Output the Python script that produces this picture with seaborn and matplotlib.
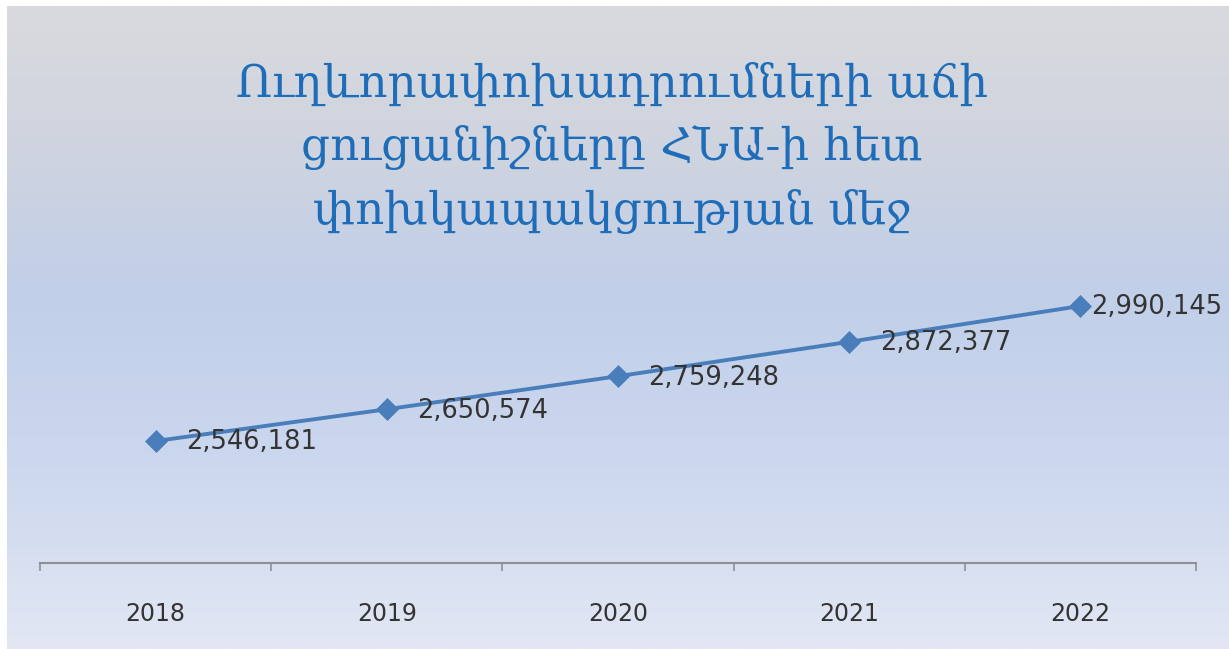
import numpy as np
import pandas as pd
import matplotlib
matplotlib.use("Agg")
import matplotlib.pyplot as plt
from matplotlib.colors import LinearSegmentedColormap
import seaborn as sns

# Data
years = ["2018", "2019", "2020", "2021", "2022"]
passengers = [2546181, 2650574, 2759248, 2872377, 2990145]
title_lines = [
    "Ուղևորափոխադրումների աճի",
    "ցուցանիշները ՀՆԱ-ի հետ",
    "փոխկապակցության մեջ",
]

sns.set_theme(style="white")
plt.rcParams["font.family"] = ["DejaVu Sans"]

W, H = 1229, 649
fig = plt.figure(figsize=(W / 100, H / 100), dpi=100)
fig.patch.set_facecolor("white")

# Soft vertical gradient behind the chart
bg = fig.add_axes([7 / W, 0, 1 - 7 / W, 1 - 6 / H], zorder=-5)
grad_cmap = LinearSegmentedColormap.from_list(
    "bg",
    [(0.0, "#d9dadd"), (0.25, "#cdd3e0"), (0.45, "#c1cfe9"),
     (0.7, "#cbd7ee"), (1.0, "#e2e7f3")],
)
bg.imshow(np.linspace(0, 1, 256)[:, None], aspect="auto", cmap=grad_cmap,
          extent=[0, 1, 0, 1], origin="upper")
bg.set_axis_off()

ax = fig.add_axes([40 / W, 86 / H, 1156 / W, 290.4 / H])
ax.patch.set_alpha(0)

df = pd.DataFrame({"pos": np.arange(len(years)), "value": passengers})
line_color = "#4a7ebb"
sns.lineplot(data=df, x="pos", y="value", ax=ax, color=line_color,
             linewidth=2.8, marker="D", markersize=11,
             markeredgecolor=line_color, markeredgewidth=0.5)

ax.set_xlim(-0.5, len(years) - 0.5)
ax.set_ylim(2145000, 3100000)

# Value labels to the right of each marker
for i, v in enumerate(passengers):
    dx = 22 if i < len(passengers) - 1 else 8
    ax.annotate(f"{v:,}", (i, v), xytext=(dx, -1), textcoords="offset points",
                ha="left", va="center", fontsize=18.5, color="#333333",
                annotation_clip=False)

# Category axis: tick marks on the boundaries, labels in the centres
ax.set_xticks(np.arange(-0.5, len(years)), labels=[""] * (len(years) + 1))
ax.set_xticks(np.arange(len(years)), labels=years, minor=True)
ax.tick_params(axis="x", which="major", bottom=True, length=6, width=1.2,
               color="#8d9095", direction="out")
ax.tick_params(axis="x", which="minor", bottom=True, length=0, pad=28,
               labelsize=17, labelcolor="#333333")
ax.set_yticks([])
ax.set_xlabel("")
ax.set_ylabel("")
for side in ["top", "right", "left"]:
    ax.spines[side].set_visible(False)
ax.spines["bottom"].set_color("#8d9095")
ax.spines["bottom"].set_linewidth(1.5)

fig.text(612 / W, 1 - 148 / H, "\n".join(title_lines), ha="center",
         va="center", fontsize=32.5, color="#1f6db8", linespacing=1.55,
         family=["DejaVu Serif", "DejaVu Sans"])

fig.savefig("out.png", dpi=100)
